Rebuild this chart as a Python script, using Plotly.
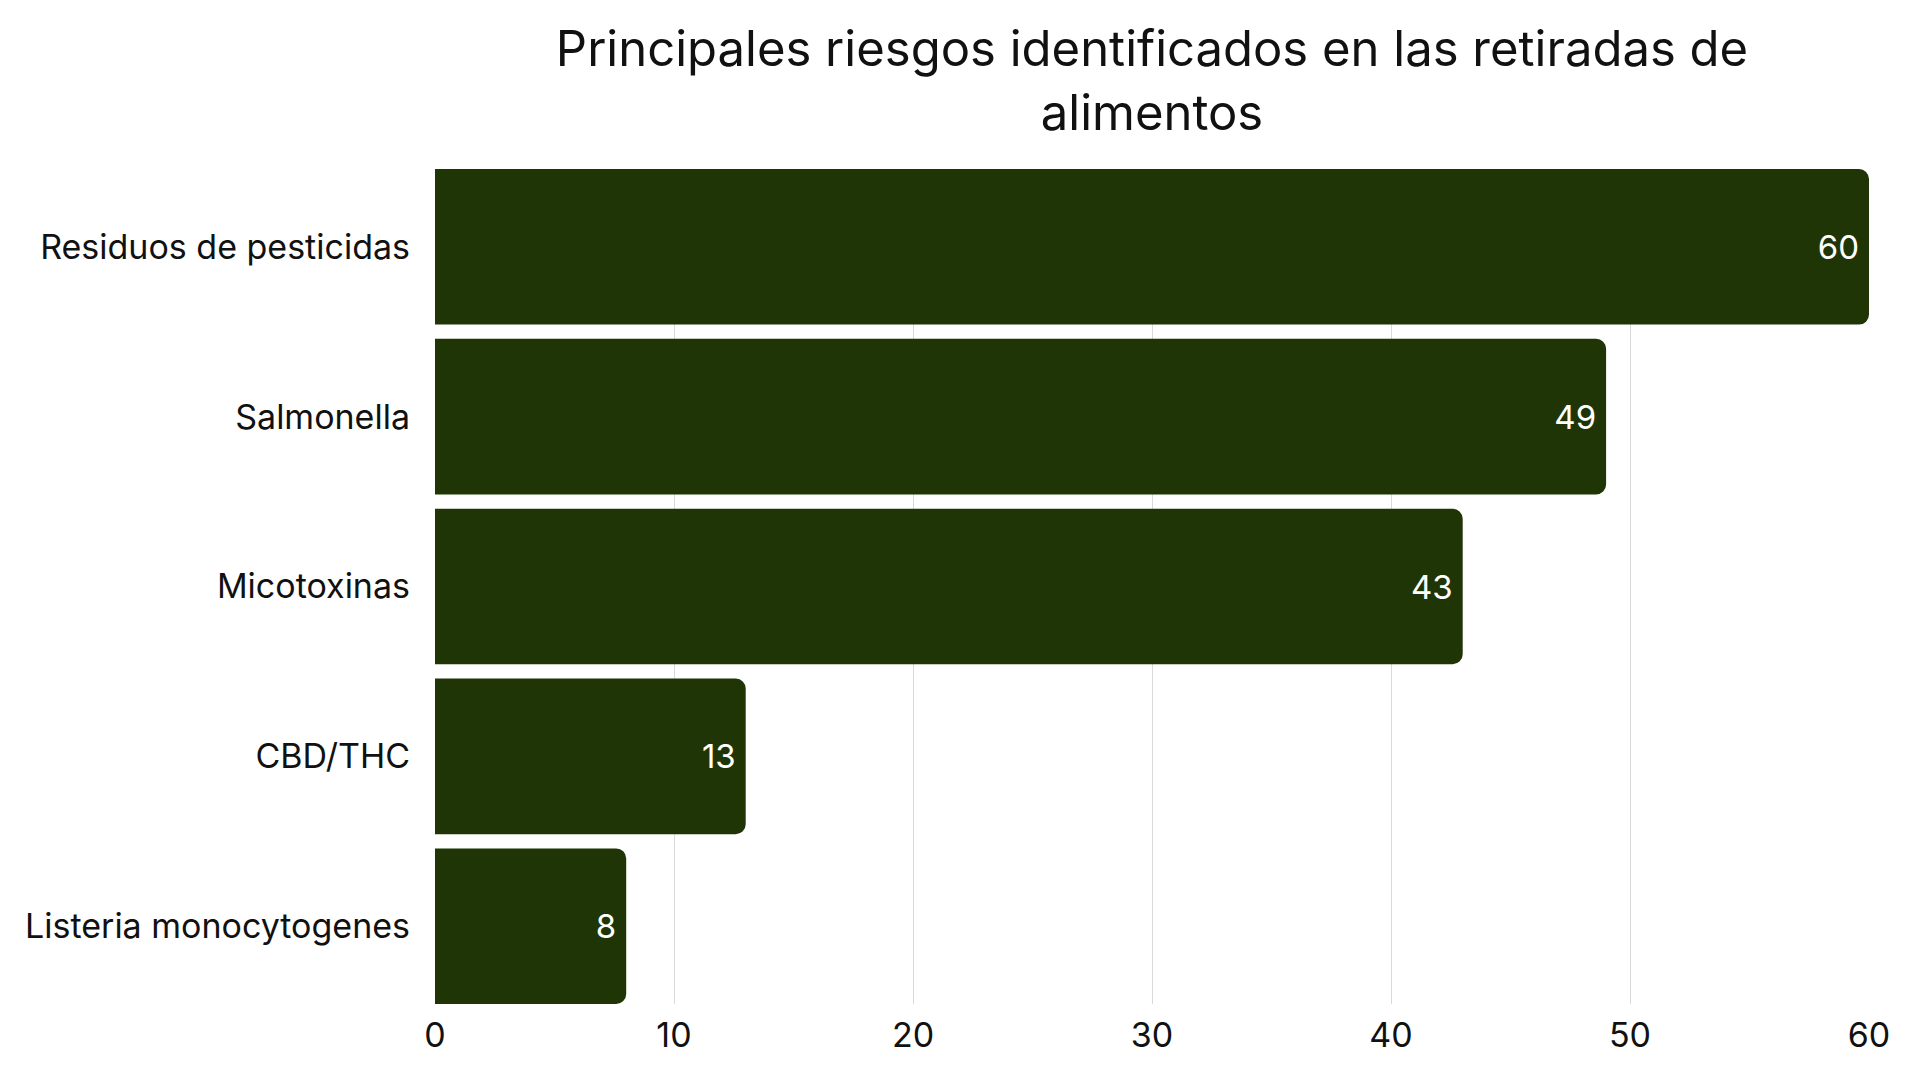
import plotly.graph_objects as go

categories = ["Residuos de pesticidas", "Salmonella", "Micotoxinas", "CBD/THC", "Listeria monocytogenes"]
values = [60, 49, 43, 13, 8]
x_ticks = [0, 10, 20, 30, 40, 50, 60]

FONT = "Inter, Noto Sans, sans-serif"

fig = go.Figure(go.Bar(
    x=values,
    y=categories,
    orientation="h",
    marker=dict(color="#1f3505", line=dict(width=0)),
    text=[str(v) for v in values],
    textposition="inside",
    insidetextanchor="end",
    textangle=0,
    textfont=dict(family=FONT, size=33, color="#ffffff"),
    cliponaxis=False,
))

fig.update_layout(
    width=1920, height=1080,
    paper_bgcolor="white", plot_bgcolor="white",
    margin=dict(l=435, r=51, t=169, b=76),
    bargap=0.084,
    barcornerradius=10,
    showlegend=False,
    title=dict(
        text="Principales riesgos identificados en las retiradas de<br>alimentos",
        x=0.5, xref="paper", xanchor="center",
        y=1 - 66 / 1080, yref="container", yanchor="top",
        font=dict(family=FONT, size=49, color="#111111"),
    ),
    font=dict(family=FONT, color="#111111"),
)

fig.update_xaxes(
    range=[0, 60],
    tickvals=x_ticks,
    showgrid=True, gridcolor="#d9d9d9", gridwidth=1,
    zeroline=False, showline=False,
    ticks="", tickfont=dict(family=FONT, size=34, color="#111111"),
    ticklabelstandoff=8,
)
fig.update_yaxes(
    categoryorder="array", categoryarray=categories[::-1],
    range=[-0.458, 4.458],
    showgrid=False, zeroline=False, showline=False,
    ticks="", tickfont=dict(family=FONT, size=34, color="#111111"),
    ticklabelstandoff=24,
)

fig.write_html("out.html")
